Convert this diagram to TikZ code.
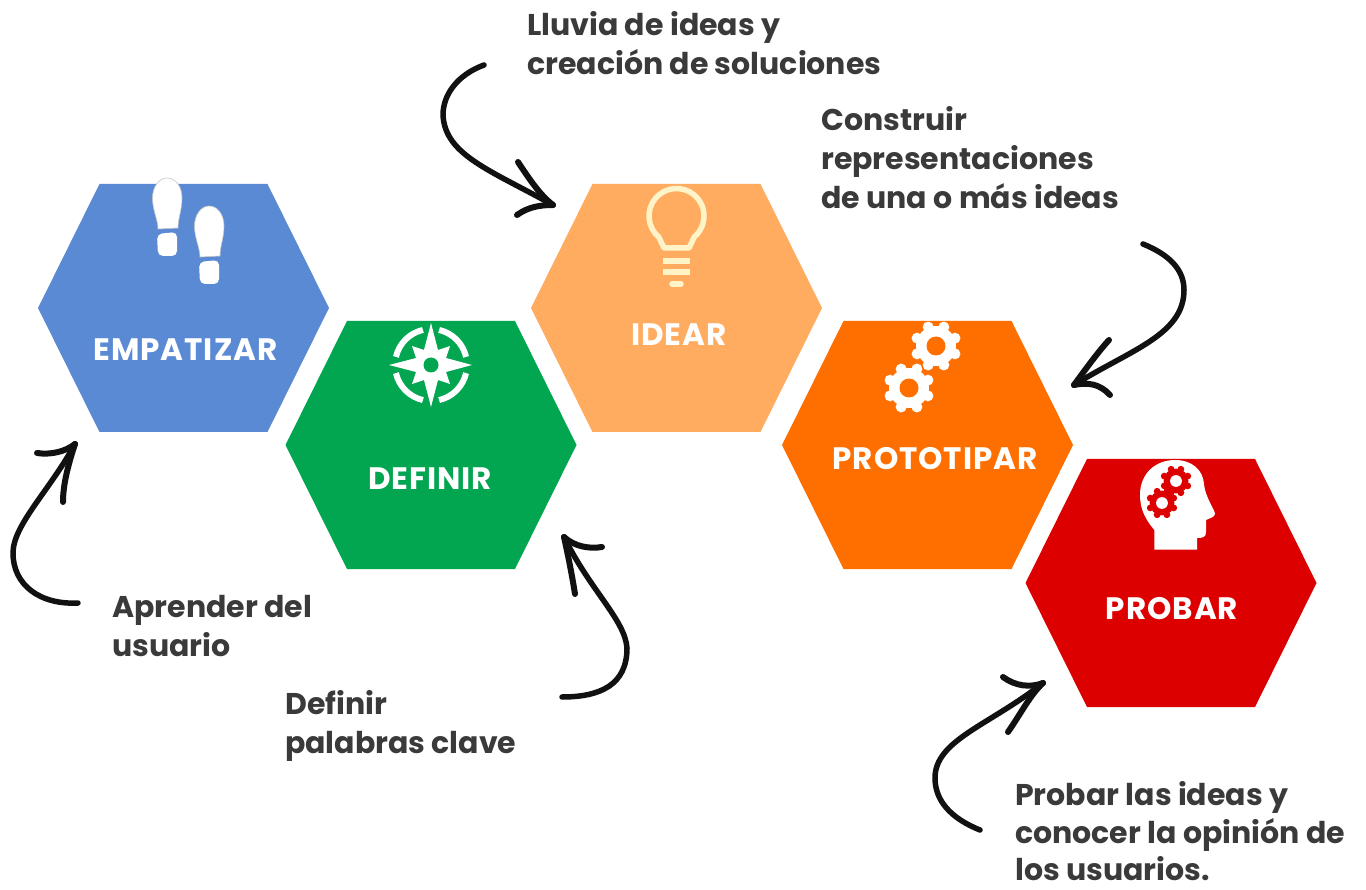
\documentclass[tikz,border=0pt]{standalone}
\usepackage{fontspec}
\setmainfont{Poppins}
\usetikzlibrary{positioning}
\definecolor{hexblue}{HTML}{5B8AD5}
\definecolor{hexgreen}{HTML}{02A550}
\definecolor{hexsand}{HTML}{FFAC60}
\definecolor{hexorange}{HTML}{FF6F00}
\definecolor{hexred}{HTML}{DD0000}
\definecolor{bulbcream}{HTML}{FFF4C8}
\definecolor{notegray}{HTML}{3A3A3A}
\definecolor{inkblack}{HTML}{111111}
\tikzset{
  steplabel/.style={text=white,font=\bfseries\fontsize{31}{36}\selectfont\addfontfeature{LetterSpace=3},inner sep=0pt},
  notelabel/.style={text=notegray,font=\bfseries\fontsize{30}{39}\selectfont,align=left,anchor=north west,inner sep=0pt},
  inkline/.style={draw=inkblack,line width=5.5pt,line cap=round,line join=round},
  inkbarb/.style={draw=inkblack,line width=6pt,line cap=round}
}
\newcommand{\hexa}[3]{\fill[#3,shift={(#1,#2)}] (-145.5,0)--(-84,-124)--(84,-124)--(145.5,0)--(84,124)--(-84,124)--cycle;}
\newcommand{\gearwheel}[5]{
  \begin{scope}[shift={(#1,#2)}]
    \fill[#4] (0,0) circle ({0.8*#3});
    \foreach \a in {0,45,...,315}
      \fill[#4] (\a+22.5:{0.82*#3}) circle ({0.22*#3});
    \fill[#5] (0,0) circle ({0.38*#3});
  \end{scope}
}
\newcommand{\foot}[2]{
  \begin{scope}[shift={(#1,#2)}]
    \path[fill=white,draw=gray!45,line width=.6pt] (0,0) .. controls (9,0) and (15,9) .. (15,20) .. controls (15,32) and (11,40) .. (11,50) -- (-9,51) .. controls (-9,42) and (-14.5,32) .. (-14.5,20) .. controls (-14.5,9) and (-8,0) .. (0,0);
    \fill[white,rounded corners=5pt] (-10,56) -- (10,54) -- (10,78) -- (-9,78) -- cycle;
  \end{scope}
}
\begin{document}
\begin{tikzpicture}[x=1pt,y=1pt,yscale=-1]
\useasboundingbox (0,0) rectangle (1366,890);
\fill[white] (0,0) rectangle (1366,890);
\hexa{183.5}{308}{hexblue}
\hexa{431}{445}{hexgreen}
\hexa{676.5}{308}{hexsand}
\hexa{927.5}{445}{hexorange}
\hexa{1171}{583}{hexred}

\foot{167}{178}
\foot{209}{206}

\fill[white] (431,323)--(438,350)--(450,346)--(446,358)--(472,365)--(446,372)--(450,384)--(438,380)--(431,407)--(424,380)--(412,384)--(416,372)--(389,365)--(416,358)--(412,346)--(424,350)--cycle;
\fill[hexgreen] (431,365) circle (7.5);
\foreach \a in {193,283,373,463}
  \draw[white,line width=6pt] (431,365) ++(\a:36) arc (\a:\a+64:36);

\draw[bulbcream,line width=5.5pt,line join=round] (676.5,216) ++(130:27.5) arc (130:410:27.5) -- (689,248) -- (664,248) -- cycle;
\foreach \y in {261,272}
  \draw[bulbcream,line width=5.5pt] (663,\y) -- (690,\y);
\draw[bulbcream,line width=5.5pt,line cap=round] (672,284) -- (681,284);

\gearwheel{936}{346}{25}{white}{hexorange}
\gearwheel{909}{388}{25}{white}{hexorange}

\fill[white] (1154.3,549.5) -- (1154.3,530) .. controls (1146,520) and (1140,510) .. (1140,495) .. controls (1140,473) and (1156,460) .. (1175,460) .. controls (1192,460) and (1203,470) .. (1204,484) .. controls (1205,497) and (1215,510) .. (1215,514) .. controls (1215,517) and (1208,519) .. (1206,520) -- (1206,532) .. controls (1206,537) and (1203,538) .. (1197,538) -- (1197,549.5) -- cycle;
\gearwheel{1176}{481}{15.5}{hexred}{white}
\gearwheel{1162}{503}{15.5}{hexred}{white}

\node[steplabel] (empatizar) at (185.5,350) {EMPATIZAR};
\node[steplabel] (definir) at (430,479) {DEFINIR};
\node[steplabel] (idear) at (679,335) {IDEAR};
\node[steplabel] (prototipar) at (935,459) {PROTOTIPAR};
\node[steplabel] (probar) at (1172,609) {PROBAR};

\node[notelabel] (notaidear) at (527,11) {Lluvia de ideas y\\creación de soluciones};
\node[notelabel] (notaproto) at (821,106) {Construir\\representaciones\\de una o más ideas};
\node[notelabel] (notaempat) at (112,595) {Aprender del\\usuario};
\node[notelabel] (notadefin) at (285,690) {Definir\\palabras clave};
\node[notelabel] (notaprobar) at (1015,781) {Probar las ideas y\\[-1pt]conocer la opinión de\\[-2pt]los usuarios.};

\coordinate (ideatail) at (484,65);
\coordinate (ideatip) at (553,205);
\draw[inkline] (ideatail) .. controls (457,75) and (443,95) .. (443,115) .. controls (445,155) and (490,170) .. (ideatip);
\draw[inkbarb] (ideatip) .. controls (540,195) and (530,180) .. (518,162);
\draw[inkbarb] (ideatip) .. controls (540,205) and (528,207) .. (517,215);

\coordinate (prototail) at (1143,244);
\coordinate (prototip) at (1074,385);
\draw[inkline] (prototail) .. controls (1170,255) and (1184,270) .. (1184,290) .. controls (1184,335) and (1130,350) .. (prototip);
\draw[inkbarb] (prototip) .. controls (1085,370) and (1098,352) .. (1109,340);
\draw[inkbarb] (prototip) .. controls (1088,382) and (1100,384) .. (1110,395);

\coordinate (empattail) at (78,603);
\coordinate (empattip) at (75,444);
\draw[inkline] (empattail) .. controls (40,605) and (13,585) .. (13,553) .. controls (13,525) and (50,490) .. (empattip);
\draw[inkbarb] (empattip) .. controls (65,452) and (50,455) .. (37,453);
\draw[inkbarb] (empattip) .. controls (68,465) and (63,485) .. (63,502);

\coordinate (definitail) at (562,697);
\coordinate (definitip) at (564,537);
\draw[inkline] (definitail) .. controls (600,697) and (627,685) .. (627,648) .. controls (625,620) and (590,590) .. (definitip);
\draw[inkbarb] (definitip) .. controls (575,547) and (590,549) .. (602,547);
\draw[inkbarb] (definitip) .. controls (568,555) and (572,575) .. (575,594);

\coordinate (probartail) at (980,830);
\coordinate (probartip) at (1043,683);
\draw[inkline] (probartail) .. controls (950,818) and (935,800) .. (935,778) .. controls (935,740) and (990,725) .. (probartip);
\draw[inkbarb] (probartip) .. controls (1030,688) and (1015,686) .. (1003,677);
\draw[inkbarb] (probartip) .. controls (1030,695) and (1020,715) .. (1008,732);
\end{tikzpicture}
\end{document}
